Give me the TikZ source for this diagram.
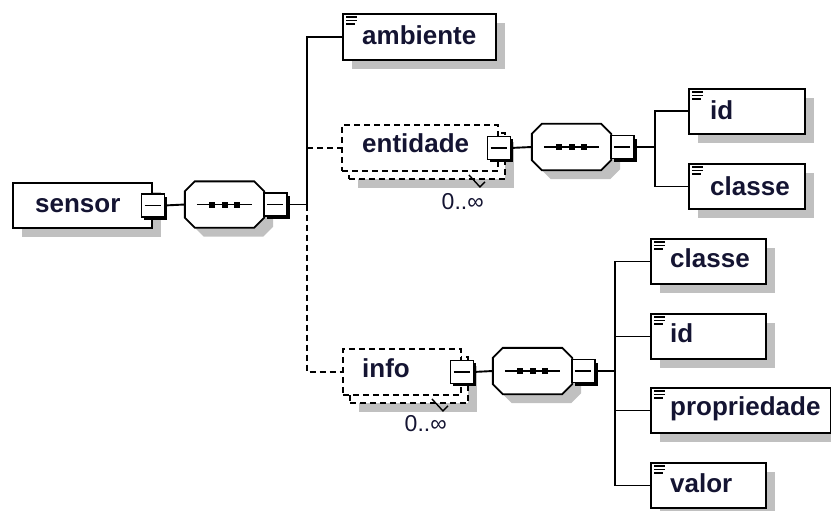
\documentclass[tikz,border=0pt]{standalone}
\usepackage{fontspec}
\setmainfont{Liberation Sans}
\usetikzlibrary{shadows}
\definecolor{shadowgray}{RGB}{192,192,192}
\definecolor{txt}{RGB}{20,20,50}

% octagon of a sequence compositor, offset by #2 (for the shadow)
\newcommand\octpath[2]{([shift={(10+#2,#2)}]#1.north west) -- ([shift={(-10+#2,#2)}]#1.north east) -- ([shift={(#2,10+#2)}]#1.north east) -- ([shift={(#2,-10+#2)}]#1.south east) -- ([shift={(-10+#2,#2)}]#1.south east) -- ([shift={(10+#2,#2)}]#1.south west) -- ([shift={(#2,-10+#2)}]#1.south west) -- ([shift={(#2,10+#2)}]#1.north west) -- cycle}
\newcommand\seqbody[1]{%
  \fill[shadowgray] \octpath{#1}{9};
  \draw[fill=white, line width=1.9pt] \octpath{#1}{0};
  \draw[line width=1.9pt] ([xshift=12pt]#1.west) -- ([xshift=-12pt]#1.east);
  \foreach \d in {-12.5,0,12.5} \fill ([shift={(\d-3,-3)}]#1.center) rectangle ++(6,6);
}

\tikzset{
  elbox/.style={draw, fill=white, line width=1.9pt, inner sep=0pt, anchor=north west,
    general shadow={fill=shadowgray, shadow xshift=9pt, shadow yshift=-9pt}},
  dashline/.style={dash pattern=on 6pt off 4pt},
  multback/.style={elbox, dashline},
  multfront/.style={draw, fill=white, line width=1.9pt, inner sep=0pt, anchor=north west, dashline},
  seqframe/.style={inner sep=0pt, minimum width=79pt, minimum height=46pt},
  minusbox/.style={draw, fill=white, line width=1.7pt, inner sep=0pt, minimum size=23pt,
    general shadow={fill=black, shadow xshift=3pt, shadow yshift=-3pt}},
  conn/.style={line width=1.9pt},
  elname/.style={font=\fontsize{26}{30}\selectfont\bfseries, text=txt, inner sep=0pt, anchor=base west},
  multlabel/.style={font=\fontsize{23}{27}\selectfont, text=txt, inner sep=0pt, anchor=base east},
  iconline/.style={line width=1.5pt},
}

\begin{document}
\begin{tikzpicture}[x=1pt, y=-1pt]
\useasboundingbox (0,0) rectangle (831,511);

% element boxes
\node[elbox, minimum width=139pt, minimum height=45pt] (sensor) at (12,182) {};
\node[elbox, minimum width=153pt, minimum height=46pt] (amb) at (342,13) {};
\node[multback, minimum width=156pt, minimum height=46pt] (entB) at (348,132) {};
\node[multfront, minimum width=156pt, minimum height=46pt] (ent) at (341,124) {};
\node[multback, minimum width=118pt, minimum height=46pt] (infoB) at (349,356) {};
\node[multfront, minimum width=118pt, minimum height=46pt] (info) at (342,348) {};
\node[elbox, minimum width=116pt, minimum height=45pt] (id1) at (688,88) {};
\node[elbox, minimum width=116pt, minimum height=45pt] (cl1) at (688,163) {};
\node[elbox, minimum width=115pt, minimum height=45pt] (cl2) at (650,238) {};
\node[elbox, minimum width=115pt, minimum height=45pt] (id2) at (650,313) {};
\node[elbox, minimum width=180pt, minimum height=45pt] (prop) at (650,387) {};
\node[elbox, minimum width=115pt, minimum height=45pt] (valor) at (650,462) {};

% documentation icons of the leaf elements
\foreach \n in {amb,id1,cl1,cl2,id2,prop,valor}{
  \draw[iconline] ([shift={(4,4)}]\n.north west) -- ++(11,0);
  \draw[iconline] ([shift={(4,7.5)}]\n.north west) -- ++(11,0);
  \draw[iconline] ([shift={(4,11)}]\n.north west) -- ++(9,0);
}

% sequence compositors
\node[seqframe] (seq1) at (224.5,204.5) {};
\node[seqframe] (seq2) at (571.5,147) {};
\node[seqframe] (seq3) at (532.5,371) {};
\seqbody{seq1}
\seqbody{seq2}
\seqbody{seq3}

% collapse boxes
\node[minusbox] (sensorM) at (sensor.east) {};
\node[minusbox] (entM) at (ent.east) {};
\node[minusbox] (infoM) at (info.east) {};
\node[minusbox] (seq1M) at ([xshift=11pt]seq1.east) {};
\node[minusbox] (seq2M) at ([xshift=11pt]seq2.east) {};
\node[minusbox] (seq3M) at ([xshift=11pt]seq3.east) {};
\foreach \m in {sensorM,entM,infoM,seq1M,seq2M,seq3M}
  \draw[line width=1.7pt] ([xshift=4pt]\m.west) -- ([xshift=-4.5pt]\m.east);

% names
\node[elname] (sensorT) at ([shift={(23,30)}]sensor.north west) {sensor};
\node[elname] (ambT) at ([shift={(20,32)}]amb.north west) {ambiente};
\node[elname] (entT) at ([shift={(21,29)}]ent.north west) {entidade};
\node[elname] (infoT) at ([shift={(20,29)}]info.north west) {info};
\node[elname] (id1T) at ([shift={(22,32)}]id1.north west) {id};
\node[elname] (cl1T) at ([shift={(22,32)}]cl1.north west) {classe};
\node[elname] (cl2T) at ([shift={(20,29)}]cl2.north west) {classe};
\node[elname] (id2T) at ([shift={(20,29)}]id2.north west) {id};
\node[elname] (propT) at ([shift={(20,28)}]prop.north west) {propriedade};
\node[elname] (valorT) at ([shift={(20,30)}]valor.north west) {valor};

% occurrence marks
\draw[line width=1.4pt] ([shift={(-37,-5)}]entB.south east) -- ++(11,12) -- ++(5,-5);
\draw[line width=1.4pt] ([shift={(-37,-5)}]infoB.south east) -- ++(11,12) -- ++(5,-5);
\node[multlabel] (entN) at ([shift={(-22,30)}]entB.south east) {0..∞};
\node[multlabel] (infoN) at ([shift={(-22,28)}]infoB.south east) {0..∞};

% connectors
\coordinate (j1) at (307,204.5);
\coordinate (j2) at (655,147);
\coordinate (j3) at (615,371);
\draw[conn] (sensorM.east) -- (seq1.west);
\draw[conn] (seq1M.east) -- (j1);
\draw[conn] (j1) |- (amb.west);
\draw[conn, dashline] (j1 |- ent.west) -- (ent.west);
\draw[conn, dashline] (j1) |- (info.west);
\draw[conn] (entM.east) -- (seq2.west);
\draw[conn] (seq2M.east) -- (j2);
\draw[conn] (j2) |- (id1.west);
\draw[conn] (j2) |- (cl1.west);
\draw[conn] (infoM.east) -- (seq3.west);
\draw[conn] (seq3M.east) -- (j3);
\foreach \n in {cl2,id2,prop,valor}
  \draw[conn] (j3) |- (\n.west);
\end{tikzpicture}
\end{document}
